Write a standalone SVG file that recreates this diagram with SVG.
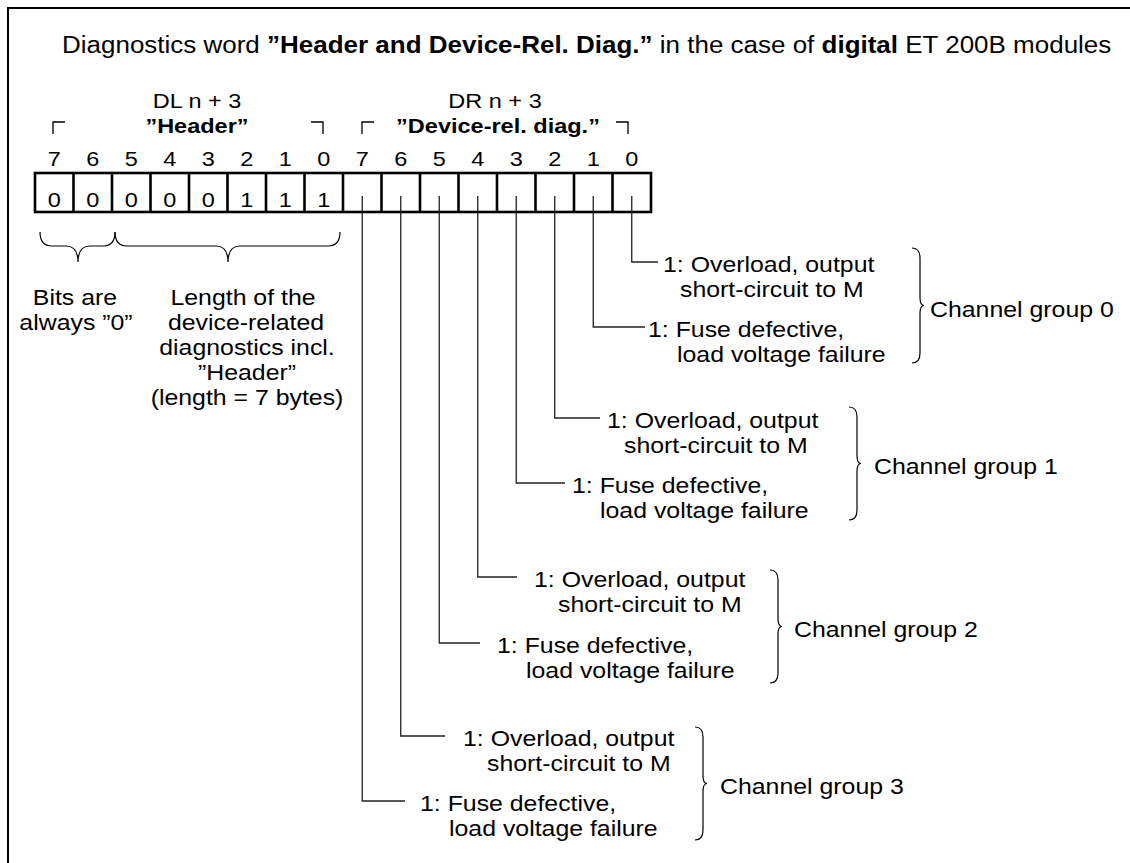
<svg xmlns="http://www.w3.org/2000/svg" width="1130" height="863" viewBox="0 0 1130 863">
<style>
text{font-family:"Liberation Sans",Arial,sans-serif;font-size:22px;fill:#000}
.b{font-weight:bold}
.n{font-size:21px}
.ttl{font-size:23px}
.m{text-anchor:middle}
.frame{fill:none;stroke:#000;stroke-width:2}
.reg{fill:#fff;stroke:#000;stroke-width:2.6}
.conn{fill:none;stroke:#222;stroke-width:1.3}
.brace{fill:none;stroke:#000;stroke-width:1.2}
.corner{fill:none;stroke:#000;stroke-width:1.3}
</style>
<rect width="1130" height="863" fill="#fff"/>
<path class="frame" d="M8,863 V8 H1130"/>

<g id="title">
<text class="ttl" transform="translate(62 53) scale(1.13 1)">Diagnostics word <tspan class="b">”Header and Device-Rel. Diag.”</tspan> in the case of <tspan class="b">digital</tspan> ET 200B modules</text>
</g>

<g id="header-label">
<text class="n m" transform="translate(197 108) scale(1.12 1)">DL n + 3</text>
<text class="n m b" transform="translate(197 133) scale(1.12 1)">”Header”</text>
<path class="corner" d="M53,134 V122 H65 M311,122 H323 V134"/>
</g>
<g id="devrel-label">
<text class="n m" transform="translate(495 108) scale(1.12 1)">DR n + 3</text>
<text class="n m b" transform="translate(498 133) scale(1.12 1)">”Device-rel. diag.”</text>
<path class="corner" d="M362,134 V122 H374 M616,122 H628 V134"/>
</g>

<g id="bit-numbers">
<text class="n m" transform="translate(54.25 166) scale(1.12 1)">7</text>
<text class="n m" transform="translate(92.75 166) scale(1.12 1)">6</text>
<text class="n m" transform="translate(131.25 166) scale(1.12 1)">5</text>
<text class="n m" transform="translate(169.75 166) scale(1.12 1)">4</text>
<text class="n m" transform="translate(208.25 166) scale(1.12 1)">3</text>
<text class="n m" transform="translate(246.75 166) scale(1.12 1)">2</text>
<text class="n m" transform="translate(285.25 166) scale(1.12 1)">1</text>
<text class="n m" transform="translate(323.75 166) scale(1.12 1)">0</text>
<text class="n m" transform="translate(362.25 166) scale(1.12 1)">7</text>
<text class="n m" transform="translate(400.75 166) scale(1.12 1)">6</text>
<text class="n m" transform="translate(439.25 166) scale(1.12 1)">5</text>
<text class="n m" transform="translate(477.75 166) scale(1.12 1)">4</text>
<text class="n m" transform="translate(516.25 166) scale(1.12 1)">3</text>
<text class="n m" transform="translate(554.75 166) scale(1.12 1)">2</text>
<text class="n m" transform="translate(593.25 166) scale(1.12 1)">1</text>
<text class="n m" transform="translate(631.75 166) scale(1.12 1)">0</text>
</g>

<g id="register">
<rect class="reg" x="35" y="173" width="616" height="39"/>
<path class="reg" d="M73.5,173 V212 M112,173 V212 M150.5,173 V212 M189,173 V212 M227.5,173 V212 M266,173 V212 M304.5,173 V212 M343,173 V212 M381.5,173 V212 M420,173 V212 M458.5,173 V212 M497,173 V212 M535.5,173 V212 M574,173 V212 M612.5,173 V212"/>
<text class="n m" transform="translate(54.25 207) scale(1.12 1)">0</text>
<text class="n m" transform="translate(92.75 207) scale(1.12 1)">0</text>
<text class="n m" transform="translate(131.25 207) scale(1.12 1)">0</text>
<text class="n m" transform="translate(169.75 207) scale(1.12 1)">0</text>
<text class="n m" transform="translate(208.25 207) scale(1.12 1)">0</text>
<text class="n m" transform="translate(246.75 207) scale(1.12 1)">1</text>
<text class="n m" transform="translate(285.25 207) scale(1.12 1)">1</text>
<text class="n m" transform="translate(323.75 207) scale(1.12 1)">1</text>
</g>

<g id="header-braces">
<path class="brace" d="M40,232 Q40,246 52,246 H66 Q78,246 78,262 Q78,246 90,246 H103 Q115,246 115,232"/>
<path class="brace" d="M115,232 Q115,246 127,246 H216 Q228,246 228,262 Q228,246 240,246 H328 Q340,246 340,232"/>
</g>
<g id="bits-zero-note">
<text class="m" transform="translate(75 305) scale(1.13 1)">Bits are</text>
<text class="m" transform="translate(76 330) scale(1.13 1)">always ”0”</text>
</g>
<g id="length-note">
<text class="m" transform="translate(243 305) scale(1.13 1)">Length of the</text>
<text class="m" transform="translate(246 330) scale(1.13 1)">device-related</text>
<text class="m" transform="translate(247 355) scale(1.13 1)">diagnostics incl.</text>
<text class="m" transform="translate(247 380) scale(1.13 1)">”Header”</text>
<text class="m" transform="translate(247 405) scale(1.13 1)">(length = 7 bytes)</text>
</g>

<g id="connectors">
<path class="conn" d="M631.75,196 V262 H658"/>
<path class="conn" d="M593.25,196 V327 H645"/>
<path class="conn" d="M554.75,196 V418 H600"/>
<path class="conn" d="M516.25,196 V483 H565"/>
<path class="conn" d="M477.75,196 V577 H517"/>
<path class="conn" d="M439.25,196 V643 H480"/>
<path class="conn" d="M400.75,196 V736 H445"/>
<path class="conn" d="M362.25,196 V801 H405"/>
</g>

<g id="channel-group-0">
<text transform="translate(663 272) scale(1.13 1)">1: Overload, output</text>
<text transform="translate(680 297) scale(1.13 1)">short-circuit to M</text>
<text transform="translate(648 337) scale(1.13 1)">1: Fuse defective,</text>
<text transform="translate(677 362) scale(1.13 1)">load voltage failure</text>
<path class="brace" d="M912,248 Q920,248 920,258 V297.5 Q920,305.5 924,305.5 Q920,305.5 920,313.5 V353 Q920,363 912,363"/>
<text transform="translate(930 317) scale(1.13 1)">Channel group 0</text>
</g>
<g id="channel-group-1">
<text transform="translate(607 428) scale(1.13 1)">1: Overload, output</text>
<text transform="translate(624 453) scale(1.13 1)">short-circuit to M</text>
<text transform="translate(572 493) scale(1.13 1)">1: Fuse defective,</text>
<text transform="translate(600 518) scale(1.13 1)">load voltage failure</text>
<path class="brace" d="M849,407 Q857,407 857,417 V455.5 Q857,463.5 861,463.5 Q857,463.5 857,471.5 V510 Q857,520 849,520"/>
<text transform="translate(874 474) scale(1.13 1)">Channel group 1</text>
</g>
<g id="channel-group-2">
<text transform="translate(534 587) scale(1.13 1)">1: Overload, output</text>
<text transform="translate(558 612) scale(1.13 1)">short-circuit to M</text>
<text transform="translate(497 653) scale(1.13 1)">1: Fuse defective,</text>
<text transform="translate(526 678) scale(1.13 1)">load voltage failure</text>
<path class="brace" d="M770,570 Q778,570 778,580 V618.5 Q778,626.5 782,626.5 Q778,626.5 778,634.5 V673 Q778,683 770,683"/>
<text transform="translate(794 637) scale(1.13 1)">Channel group 2</text>
</g>
<g id="channel-group-3">
<text transform="translate(463 746) scale(1.13 1)">1: Overload, output</text>
<text transform="translate(487 771) scale(1.13 1)">short-circuit to M</text>
<text transform="translate(420 811) scale(1.13 1)">1: Fuse defective,</text>
<text transform="translate(449 836) scale(1.13 1)">load voltage failure</text>
<path class="brace" d="M695,727 Q703,727 703,737 V775.5 Q703,783.5 707,783.5 Q703,783.5 703,791.5 V830 Q703,840 695,840"/>
<text transform="translate(720 794) scale(1.13 1)">Channel group 3</text>
</g>
</svg>
